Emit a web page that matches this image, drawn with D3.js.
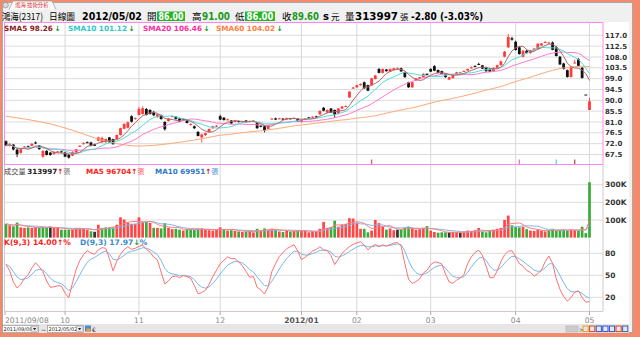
<!DOCTYPE html>
<html><head><meta charset="utf-8">
<script src="https://cdn.jsdelivr.net/npm/d3@7"></script>
<style>body{margin:0;background:#fff}svg{display:block}</style>
</head><body><svg id="c" width="640" height="337"></svg>
<script>
// ---------------- data ----------------
const openP = [73.0,71.1,71.6,69.5,68.2,70.7,70.9,71.1,72.5,71.2,66.6,69.0,68.3,67.7,68.3,68.8,
68.3,67.4,67.0,68.3,70.9,71.9,72.6,72.5,71.8,73.2,72.6,72.6,74.6,73.9,73.9,75.6,78.2,78.6,83.4,82.3,
83.9,84.3,86.4,86.0,85.2,83.0,83.9,81.0,81.4,83.3,83.2,82.5,82.0,81.6,79.8,79.2,76.9,74.6,75.6,76.8,78.4,79.3,
83.4,82.8,82.0,81.6,81.0,81.4,81.1,81.6,81.0,81.5,80.6,79.5,79.2,78.1,82.2,82.5,82.4,82.4,82.0,82.5,82.3,82.3,
81.0,82.0,82.9,82.8,83.3,84.2,86.9,84.9,86.6,86.0,84.4,86.6,87.5,91.2,95.0,
95.4,96.3,97.5,96.3,96.3,98.9,103.0,101.4,102.8,101.9,102.6,103.0,103.3,101.7,97.5,95.4,98.2,98.9,99.6,101.0,
103.0,104.2,102.6,102.1,101.0,98.6,99.2,100.6,101.4,102.0,102.4,103.4,104.2,105.1,104.5,103.7,103.0,102.1,103.4,104.6,108.1,112.0,115.8,
114.3,112.0,108.1,110.6,109.6,110.8,111.2,112.8,114.0,113.6,114.0,112.0,108.1,105.3,102.5,99.7,105.5,107.1,103.5,92.4,86.0];
const highP = [73.4,72.3,71.8,69.9,69.9,71.0,71.2,72.3,72.9,71.4,69.2,69.3,68.5,68.8,69.0,69.1,
68.6,67.6,68.8,69.9,71.4,72.6,72.9,72.8,72.0,74.9,74.9,74.1,74.8,74.1,75.8,78.6,80.4,81.2,83.8,82.9,
87.3,87.5,86.8,86.3,85.6,84.5,84.1,81.3,82.7,83.6,83.4,82.8,82.3,81.8,80.4,79.5,77.2,76.2,76.6,78.3,79.4,79.7,
84.0,83.0,82.4,81.8,81.8,81.6,81.4,81.8,81.6,81.8,80.8,79.8,79.4,79.7,82.6,82.8,82.7,82.6,82.8,82.7,82.9,82.5,
81.9,82.6,83.1,83.4,83.6,85.8,87.2,86.2,86.8,86.2,86.8,87.6,87.9,93.8,95.6,
96.5,97.0,97.8,96.5,99.3,100.6,103.4,103.2,103.0,103.2,103.5,103.6,103.6,101.9,97.7,97.6,99.3,99.8,101.2,101.2,
103.3,104.6,102.8,102.3,101.2,99.8,100.8,101.8,101.8,102.4,103.2,104.1,104.6,105.6,104.7,103.9,103.2,103.7,104.8,106.5,110.5,117.5,116.4,
114.8,112.6,110.8,111.0,111.0,111.8,113.7,113.8,114.6,114.3,114.4,112.6,108.4,105.6,102.8,104.3,106.9,107.5,103.8,92.4,91.0];
const lowP = [70.9,70.8,69.2,66.4,67.8,70.3,70.4,70.9,71.8,69.5,66.2,67.1,67.0,67.5,68.1,68.2,
66.4,65.8,66.8,68.1,70.6,71.7,72.2,70.9,71.0,73.0,72.4,72.4,72.3,71.6,73.7,75.4,78.0,78.3,80.8,82.0,
83.7,84.1,83.7,84.1,83.4,82.8,82.0,77.4,81.2,83.1,82.0,80.9,81.8,80.4,79.5,78.1,75.0,72.5,75.2,76.6,78.2,79.0,
81.8,81.6,81.7,80.2,80.8,80.8,80.9,80.8,80.9,81.3,78.2,78.8,76.7,77.9,82.0,81.8,82.2,82.1,81.9,82.3,82.1,81.0,
80.8,81.9,82.6,82.6,83.0,84.0,85.4,84.7,84.7,82.8,84.2,86.4,87.3,91.0,94.8,
95.2,96.1,94.8,93.8,96.1,98.7,101.2,101.2,101.9,101.7,102.4,102.8,101.9,99.4,95.2,95.2,98.0,98.7,99.4,100.5,
101.7,102.1,101.2,100.8,99.4,98.4,99.0,100.4,101.2,101.8,102.2,103.2,104.0,104.8,103.0,101.8,101.7,101.9,103.2,104.4,107.9,111.8,114.8,
110.6,109.0,107.8,109.4,109.4,110.6,111.0,112.6,113.8,113.4,110.8,108.2,104.7,102.8,99.4,99.5,105.3,104.1,99.0,92.4,86.0];
const closeP = [71.3,71.8,69.6,67.6,69.7,70.8,70.6,71.9,72.1,69.7,69.0,67.3,67.3,68.6,68.8,68.5,
66.6,66.2,68.6,69.7,71.1,72.2,72.5,71.1,71.1,74.6,74.4,73.9,72.5,71.8,75.6,78.4,80.2,80.9,81.1,82.6,
86.4,86.7,83.9,84.3,83.8,84.2,82.2,78.0,82.5,83.4,82.2,81.1,82.0,80.6,80.2,78.4,75.2,75.8,76.4,78.1,79.2,79.5,
82.0,81.8,82.1,80.4,81.6,81.0,81.2,81.0,81.4,81.6,78.4,79.0,77.4,79.5,82.4,82.0,82.5,82.3,82.6,82.5,82.7,81.2,
81.8,82.5,82.8,83.2,83.3,85.6,85.7,86.0,84.9,84.0,86.6,87.4,87.6,93.6,95.3,
96.3,96.8,95.0,94.0,99.1,100.3,101.4,103.0,102.1,103.0,103.3,103.3,102.0,99.6,95.4,97.5,99.1,99.6,101.0,100.6,
101.9,102.3,101.4,101.0,99.6,99.6,100.6,101.6,101.6,102.2,103.0,103.7,104.2,104.9,103.2,102.1,101.9,103.5,104.6,106.2,110.2,116.3,115.2,
110.9,109.2,110.6,109.6,110.8,111.5,113.5,113.6,114.2,114.0,111.0,108.4,104.9,103.0,99.7,103.9,105.7,104.3,99.3,92.4,89.6];
const volume = [78000,70000,64000,85000,58000,55000,58000,55000,60000,55000,58000,55000,62000,55000,55000,45000,
45000,45000,45000,55000,55000,50000,45000,36000,33000,73000,55000,58000,58000,58000,73000,115000,102000,85000,78000,78000,
115000,90000,90000,83000,55000,55000,52000,82000,55000,48000,50000,45000,40000,48000,45000,45000,50000,52000,45000,42000,40000,45000,
58000,45000,40000,42000,38000,35000,32000,35000,38000,30000,50000,40000,52000,45000,50000,45000,35000,32000,42000,35000,38000,40000,
38000,40000,30000,35000,32000,50000,89000,55000,60000,96000,62000,75000,78000,110000,108000,
85000,50000,50000,30000,40000,100000,82000,62000,45000,52000,42000,45000,48000,55000,62000,55000,45000,48000,55000,65000,
40000,32000,28000,30000,30000,30000,32000,30000,28000,35000,40000,38000,42000,55000,35000,30000,42000,45000,50000,55000,100000,125000,70000,
60000,58000,62000,48000,40000,38000,45000,40000,35000,40000,50000,40000,45000,45000,40000,45990,42000,40000,62000,25523,313997];

const monthTickIdx = [0,16,36,58,80,95,115,138,158];
const monthTickLabels = ["2011/09/08","10","11","12","2012/01","02","03","04","05"];
const monthTickBold = [false,false,false,false,true,false,false,false,false];
const priceTicks = [117.0,112.5,108.0,103.5,99.0,94.5,90.0,85.5,81.0,76.5,72.0,67.5];
const volTicks = [100000,200000,300000];
const volTickLabels = ["100K","200K","300K"];
const kdTicks = [20,50,80];
// SMA60 before enough history: values
const sma60ReadIdx = [0,6,12,18,24,30,36,42,48,54,58];
const sma60ReadVal = [83.4,82.0,80.2,77.6,74.4,72.0,71.0,71.6,72.8,74.3,75.5];
const kdStart = [65,65];
const kdLabelValues = ["14.00","17.97"];
const signalIdx = [99,139,149,154];
const signalColors = ["#ff5050","#ff60d0","#40d8e0","#b04040"];

// ---------------- helpers ----------------
const N = closeP.length;
function sma(a,n){return a.map((_,i)=>{const s=Math.max(0,i-n+1);let t=0;for(let j=s;j<=i;j++)t+=a[j];return t/(i-s+1);});}
const sma5=sma(closeP,5), sma10=sma(closeP,10), sma20=sma(closeP,20);
const sma60pts = sma60ReadIdx.map((d,k)=>[d,sma60ReadVal[k]]);
for(let i=59;i<N;i++){let t=0;for(let j=i-59;j<=i;j++)t+=closeP[j];sma60pts.push([i,t/60]);}
const vma5=sma(volume,5), vma10=sma(volume,10);
const K=[kdStart[0]], D=[kdStart[1]];
for(let i=1;i<N;i++){
  const s=Math.max(0,i-8);
  const lo=d3.min(lowP.slice(s,i+1)), hi=d3.max(highP.slice(s,i+1));
  const rsv= hi>lo ? (closeP[i]-lo)/(hi-lo)*100 : 50;
  K[i]=K[i-1]*2/3+rsv/3; D[i]=D[i-1]*2/3+K[i]/3;
}

const svg=d3.select("#c");
const FONT="'DejaVu Sans','Noto Sans CJK TC',sans-serif";
const CJK="'Noto Sans CJK TC','DejaVu Sans',sans-serif";

// frame
svg.append("rect").attr("x",0).attr("y",0).attr("width",640).attr("height",337).attr("fill","#f38a6c");
svg.append("rect").attr("x",2.5).attr("y",2.5).attr("width",630).attr("height",330).attr("fill","#f0f0f0").attr("stroke","#a8a8a8");
svg.append("rect").attr("x",3).attr("y",22).attr("width",626).attr("height",302).attr("fill","#fff");

// tab
svg.append("circle").attr("cx",5.5).attr("cy",5).attr("r",2.8).attr("fill","#ddd").attr("stroke","#888").attr("stroke-width",0.7);
svg.append("path").attr("d","M9,9.5 L13,1 L52,1 L56,9.5").attr("fill","#fafafa").attr("stroke","#999").attr("stroke-width",0.7);
svg.append("text").attr("x",15).attr("y",7).attr("font-family",CJK).attr("font-size",5.4).attr("fill","#e03030").text("鴻海 技術分析");

// title row
const T=[
 {x:2,t:"鴻海(2317)",f:CJK,w:"normal",c:"#000",s:9.5,L:41},
 {x:49,t:"日線圖",f:CJK,w:"normal",c:"#000",s:9.5,L:26},
 {x:82,t:"2012/05/02",f:FONT,w:"bold",c:"#000",s:10,L:60},
 {x:147,t:"開",f:CJK,w:"normal",c:"#000",s:9.5},
 {x:192,t:"高",f:CJK,w:"normal",c:"#000",s:9.5},
 {x:202,t:"91.00",f:FONT,w:"bold",c:"#1b9a1b",s:10,L:28},
 {x:235,t:"低",f:CJK,w:"normal",c:"#000",s:9.5},
 {x:282,t:"收",f:CJK,w:"normal",c:"#000",s:9.5},
 {x:292,t:"89.60",f:FONT,w:"bold",c:"#1b9a1b",s:10,L:27},
 {x:323,t:"s",f:FONT,w:"bold",c:"#000",s:10},
 {x:331,t:"元",f:CJK,w:"normal",c:"#000",s:8.5},
 {x:345,t:"量",f:CJK,w:"normal",c:"#000",s:9.5},
 {x:355,t:"313997",f:FONT,w:"bold",c:"#000",s:10,L:43},
 {x:400,t:"張",f:CJK,w:"normal",c:"#000",s:8.5},
 {x:411,t:"-2.80 (-3.03%)",f:FONT,w:"bold",c:"#000",s:10,L:72}
];
[[157,185],[245,275]].forEach(b=>{
  svg.append("rect").attr("x",b[0]).attr("y",11.5).attr("width",b[1]-b[0]).attr("height",9.5).attr("fill","#28b428");
  svg.append("text").attr("x",b[0]+1.5).attr("y",19.5).attr("font-family",FONT).attr("font-weight","bold").attr("font-size",10)
    .attr("fill","#fff").attr("textLength",b[1]-b[0]-3).attr("lengthAdjust","spacingAndGlyphs").text("86.00");
});
T.forEach(o=>{const e=svg.append("text").attr("x",o.x).attr("y",19.5).attr("font-family",o.f).attr("font-weight",o.w)
  .attr("font-size",o.s).attr("fill",o.c).text(o.t);
  if(o.L) e.attr("textLength",o.L).attr("lengthAdjust","spacingAndGlyphs");});

// scales
const x=d3.scaleLinear().domain([0,N-1]).range([6,589.5]);
const yP=d3.scaleLinear().domain([67.5,117]).range([154.5,35.3]);
const yV=d3.scaleLinear().domain([0,300000]).range([237.6,184.7]);
const yK=d3.scaleLinear().domain([20,80]).range([297.3,253.3]);
const L=5, R=603;

// grids
const g=svg.append("g");
priceTicks.forEach(v=>g.append("line").attr("x1",L).attr("x2",R).attr("y1",yP(v)).attr("y2",yP(v)).attr("stroke","#dcdcdc"));
volTicks.forEach(v=>g.append("line").attr("x1",L).attr("x2",R).attr("y1",yV(v)).attr("y2",yV(v)).attr("stroke","#dcdcdc"));
kdTicks.forEach(v=>g.append("line").attr("x1",L).attr("x2",R).attr("y1",yK(v)).attr("y2",yK(v)).attr("stroke","#dcdcdc"));
monthTickIdx.slice(1).forEach(i=>{
  g.append("line").attr("x1",x(i)).attr("x2",x(i)).attr("y1",23).attr("y2",311).attr("stroke","#d8d8d8");
});

// panel borders
svg.append("rect").attr("x",L-0.5).attr("y",22.5).attr("width",R-L+0.5).attr("height",142).attr("fill","none").attr("stroke","#ff88f0");
svg.append("line").attr("x1",R).attr("x2",R).attr("y1",165).attr("y2",311).attr("stroke","#d8c8c8");
svg.append("line").attr("x1",L).attr("x2",R).attr("y1",311.5).attr("y2",311.5).attr("stroke","#d8c8c8");
svg.append("line").attr("x1",L-0.5).attr("x2",L-0.5).attr("y1",165).attr("y2",311.5).attr("stroke","#d8c8c8");

// axis labels right
priceTicks.forEach(v=>svg.append("text").attr("x",605).attr("y",yP(v)+2.6).attr("font-family",FONT).attr("font-weight","bold")
  .attr("font-size",7).attr("fill","#333").text(d3.format(".1f")(v)));
volTicks.forEach((v,k)=>svg.append("text").attr("x",605).attr("y",yV(v)+2.6).attr("font-family",FONT).attr("font-weight","bold")
  .attr("font-size",7.5).attr("fill","#333").text(volTickLabels[k]));
kdTicks.forEach(v=>svg.append("text").attr("x",605).attr("y",yK(v)+2.6).attr("font-family",FONT).attr("font-weight","bold")
  .attr("font-size",7.5).attr("fill","#333").text(v));

// x labels
monthTickIdx.forEach((i,k)=>{
  const xx = k===0 ? 5 : x(i);
  svg.append("line").attr("x1",xx).attr("x2",xx).attr("y1",311.5).attr("y2",315).attr("stroke","#aaa");
  svg.append("text").attr("x",xx).attr("y",323).attr("text-anchor",k===0?"start":"middle")
    .attr("font-family",FONT).attr("font-size",7.6).attr("font-weight",monthTickBold[k]?"bold":"normal")
    .attr("fill",monthTickBold[k]?"#555":"#888").text(monthTickLabels[k]);
});

// candles
const bw=2.8;
const cg=svg.append("g");
for(let i=0;i<N;i++){
  const up=closeP[i]>openP[i];
  const col=up?"#ff3b3b":"#111";
  cg.append("line").attr("x1",x(i)).attr("x2",x(i)).attr("y1",yP(highP[i])).attr("y2",yP(lowP[i])).attr("stroke",col).attr("stroke-width",0.9);
  const y1=yP(Math.max(openP[i],closeP[i])), y2=yP(Math.min(openP[i],closeP[i]));
  cg.append("rect").attr("x",x(i)-bw/2).attr("y",y1).attr("width",bw).attr("height",Math.max(1,y2-y1)).attr("fill",col);
}
// MA lines
const line=d3.line().x(d=>x(d[0])).y(d=>yP(d[1]));
const maDefs=[[sma60pts,"#ffa878",d3.curveMonotoneX],[sma20.map((v,i)=>[i,v]),"#ff78d0",d3.curveLinear],
  [sma10.map((v,i)=>[i,v]),"#50dcdc",d3.curveLinear],[sma5.map((v,i)=>[i,v]),"#b06a6a",d3.curveLinear]];
maDefs.forEach(m=>svg.append("path").attr("d",line.curve(m[2])(m[0])).attr("fill","none").attr("stroke",m[1]).attr("stroke-width",1));

// signals
signalIdx.forEach((i,k)=>svg.append("rect").attr("x",x(i)-0.6).attr("y",159.5).attr("width",1.2).attr("height",4.5).attr("fill",signalColors[k]));

// header main
const hdr=[
 {x:4,t:"SMA5 "+sma5[N-1].toFixed(2),c:"#8b1c1c"},
 {x:68,t:"SMA10 "+sma10[N-1].toFixed(2),c:"#30c8c8"},
 {x:143,t:"SMA20 "+sma20[N-1].toFixed(2),c:"#ff2ca0"},
 {x:216,t:"SMA60 "+sma60pts[sma60pts.length-1][1].toFixed(2),c:"#ff7f40"}];
hdr.forEach(h=>{const t=svg.append("text").attr("x",h.x).attr("y",30.5).attr("font-family",FONT).attr("font-weight","bold").attr("font-size",7.3);
  t.append("tspan").attr("fill",h.c).text(h.t);
  t.append("tspan").attr("fill","#1a9a1a").attr("dx",1.5).text("↓");});

// volume bars
for(let i=0;i<N;i++){
  const prev = i===0?openP[0]:closeP[i-1];
  const col = closeP[i]>prev?"#ff4545":(closeP[i]<prev?"#3aaa3a":"#333");
  svg.append("rect").attr("x",x(i)-1.35).attr("y",yV(volume[i])).attr("width",2.7).attr("height",237.6-yV(volume[i])).attr("fill",col);
}
const vline=d3.line().x((d,i)=>x(i)).y(d=>yV(d));
svg.append("path").attr("d",vline(vma10)).attr("fill","none").attr("stroke","#80b8ec").attr("stroke-width",1);
svg.append("path").attr("d",vline(vma5)).attr("fill","none").attr("stroke","#ff8080").attr("stroke-width",1);

// volume header
const vh=svg.append("text").attr("x",4).attr("y",174).attr("font-size",7.2).attr("font-family",FONT);
vh.append("tspan").attr("font-family",CJK).attr("fill","#444").text("成交量 ");
vh.append("tspan").attr("font-weight","bold").attr("fill","#222").text(volume[N-1]);
vh.append("tspan").attr("font-weight","bold").attr("fill","#e02020").text("↑");
vh.append("tspan").attr("font-family",CJK).attr("fill","#777").text("張");
const vh2=svg.append("text").attr("x",86).attr("y",174).attr("font-size",7.2).attr("font-family",FONT).attr("font-weight","bold");
vh2.append("tspan").attr("fill","#ff2020").text("MA5 "+Math.round(vma5[N-1]));
vh2.append("tspan").attr("fill","#e02020").text("↑");
vh2.append("tspan").attr("font-family",CJK).attr("font-weight","normal").attr("fill","#ff6060").text("張");
const vh3=svg.append("text").attr("x",155).attr("y",174).attr("font-size",7.2).attr("font-family",FONT).attr("font-weight","bold");
vh3.append("tspan").attr("fill","#2f78c8").text("MA10 "+Math.round(vma10[N-1]));
vh3.append("tspan").attr("fill","#e02020").text("↑");
vh3.append("tspan").attr("font-family",CJK).attr("font-weight","normal").attr("fill","#4a90d8").text("張");

// KD lines
const kline=d3.line().x((d,i)=>x(i)).y(d=>yK(d));
svg.append("path").attr("d",kline(D)).attr("fill","none").attr("stroke","#7ab8ec").attr("stroke-width",1);
svg.append("path").attr("d",kline(K)).attr("fill","none").attr("stroke","#ff7070").attr("stroke-width",1);
const kh=svg.append("text").attr("x",4).attr("y",245).attr("font-size",7.6).attr("font-family",FONT).attr("font-weight","bold");
kh.append("tspan").attr("fill","#ff2020").text("K(9,3) "+kdLabelValues[0]);
kh.append("tspan").attr("fill","#e02020").text("↑");
kh.append("tspan").attr("fill","#ff2020").text("%");
const dh=svg.append("text").attr("x",80).attr("y",245).attr("font-size",7.6).attr("font-family",FONT).attr("font-weight","bold");
dh.append("tspan").attr("fill","#3a88d0").text("D(9,3) "+kdLabelValues[1]);
dh.append("tspan").attr("fill","#1a9a1a").text("↓");
dh.append("tspan").attr("fill","#3a88d0").text("%");

// bottom controls
svg.append("rect").attr("x",3).attr("y",324).attr("width",626).attr("height",9).attr("fill","#e6e6e6");
[[2.5,"2011/09/08"],[47.5,"2012/05/02"]].forEach(b=>{
  svg.append("rect").attr("x",b[0]).attr("y",325.5).attr("width",36).attr("height",7).attr("fill","#fff").attr("stroke","#888").attr("stroke-width",0.6);
  svg.append("text").attr("x",b[0]+1).attr("y",331.3).attr("font-family",FONT).attr("font-size",5).attr("fill","#222").text(b[1]);
  svg.append("rect").attr("x",b[0]+29).attr("y",326.3).attr("width",6.2).attr("height",5.4).attr("fill","#e8e8e8").attr("stroke","#999").attr("stroke-width",0.4);
  svg.append("path").attr("d",`M${b[0]+30.5},328 L${b[0]+33.7},328 L${b[0]+32.1},330.2Z`).attr("fill","#222");
});
svg.append("text").attr("x",41).attr("y",331.5).attr("font-family",FONT).attr("font-size",6).attr("fill","#333").text("~");
svg.append("rect").attr("x",85).attr("y",325.5).attr("width",6).attr("height",6).attr("fill","#4a8ad8");
svg.append("rect").attr("x",86.5).attr("y",328.5).attr("width",4).attr("height",3).attr("fill","#f0a030");
svg.append("text").attr("x",92).attr("y",331.5).attr("font-family",FONT).attr("font-size",6).attr("fill","#333").text("€");
svg.append("rect").attr("x",566).attr("y",326).attr("width",12).attr("height",6).attr("fill","#ccc").attr("stroke","#aaa").attr("stroke-width",0.5);
svg.append("text").attr("x",579).attr("y",331.5).attr("font-family",FONT).attr("font-size",6).attr("fill","#333").text(">");
const icons=["#e8a030","#e04020","#3050d0","#3050d0","#3050d0","#e04020","#3060c0"];
icons.forEach((c,k)=>svg.append("rect").attr("x",583+k*6.6).attr("y",326).attr("width",5.2).attr("height",5.6).attr("fill","none").attr("stroke",c).attr("stroke-width",1));
</script></body></html>
